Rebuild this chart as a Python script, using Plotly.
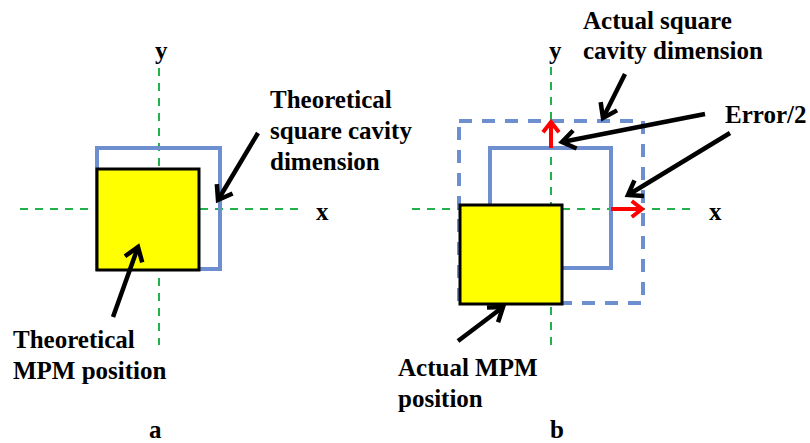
import math
import plotly.graph_objects as go

# ---- data (pixel-space coordinates of the diagram) ----
# rectangles: [x0, y0, x1, y1]
a_cavity = [97, 148, 220, 269]
a_mpm = [97, 169, 199, 270]
b_cavity = [490, 148, 611, 268]
b_actual_cavity = [459, 121, 643, 303]
b_mpm = [460, 205, 562, 304]

# axis lines: [x0, y0, x1, y1]
a_xaxis = [20, 209, 298, 209]
a_yaxis = [159, 68, 159, 345]
b_xaxis = [412, 209, 692, 209]
b_yaxis = [551, 67, 551, 345]

# black pointer arrows: [x_start, y_start, x_tip, y_tip]
black_arrows = [
    [258, 133, 218, 200],
    [113, 317, 138, 247],
    [625, 74, 603, 118],
    [705, 114, 562, 142],
    [730, 133, 628, 195],
    [458, 341, 503, 307],
]
# red error arrows
red_arrows = [
    [551, 148, 551, 122],
    [611, 209, 642, 209],
]

# text labels: (text, x, y, anchor)
labels = [
    ("y", 161, 50, "center"),
    ("x", 322, 211, "center"),
    ("Theoretical", 269, 99, "left"),
    ("square cavity", 269, 130, "left"),
    ("dimension", 269, 161, "left"),
    ("Theoretical", 12, 339, "left"),
    ("MPM position", 12, 370, "left"),
    ("a", 155, 429, "center"),
    ("y", 555, 50, "center"),
    ("x", 715, 211, "center"),
    ("Actual square", 582, 20, "left"),
    ("cavity dimension", 582, 50, "left"),
    ("Error/2", 724, 114, "left"),
    ("Actual MPM", 397, 367, "left"),
    ("position", 397, 398, "left"),
    ("b", 557, 429, "center"),
]

W, H = 810, 443
BLUE = "#6E8FCF"
GREEN = "#22B14C"
YELLOW = "#FFFF00"

fig = go.Figure()

shapes = []
for ln in [a_xaxis, a_yaxis, b_xaxis, b_yaxis]:
    shapes.append(dict(type="line", x0=ln[0], y0=ln[1], x1=ln[2], y1=ln[3],
                       line=dict(color=GREEN, width=2, dash="8px,7px"), layer="below"))
for r in [a_cavity, b_cavity]:
    shapes.append(dict(type="rect", x0=r[0], y0=r[1], x1=r[2], y1=r[3],
                       line=dict(color=BLUE, width=4), layer="below"))
shapes.append(dict(type="rect", x0=b_actual_cavity[0], y0=b_actual_cavity[1],
                   x1=b_actual_cavity[2], y1=b_actual_cavity[3],
                   line=dict(color=BLUE, width=4, dash="13px,10px"), layer="below"))
for r in [a_mpm, b_mpm]:
    shapes.append(dict(type="rect", x0=r[0], y0=r[1], x1=r[2], y1=r[3],
                       fillcolor=YELLOW, line=dict(color="black", width=3), layer="below"))


def arrow_path(arrows, head_len, half_angle_deg):
    xs, ys = [], []
    ang = math.radians(half_angle_deg)
    for x0, y0, x1, y1 in arrows:
        dx, dy = x1 - x0, y1 - y0
        n = math.hypot(dx, dy)
        ux, uy = dx / n, dy / n
        xs += [x0, x1, None]
        ys += [y0, y1, None]
        w = []
        for s in (1, -1):
            ca, sa = math.cos(s * ang), math.sin(s * ang)
            bx = -(ux * ca - uy * sa)
            by = -(ux * sa + uy * ca)
            w.append((x1 + bx * head_len, y1 + by * head_len))
        xs += [w[0][0], x1, w[1][0], None]
        ys += [w[0][1], y1, w[1][1], None]
    return xs, ys


bx, by = arrow_path(black_arrows, 16, 35)
fig.add_trace(go.Scatter(x=bx, y=by, mode="lines",
                         line=dict(color="black", width=4.5), hoverinfo="skip"))
rx, ry = arrow_path(red_arrows, 13, 38)
fig.add_trace(go.Scatter(x=rx, y=ry, mode="lines",
                         line=dict(color="#FF0000", width=4), hoverinfo="skip"))

annotations = []
for t, x, y, anc in labels:
    annotations.append(dict(text=t, x=x, y=y, xref="x", yref="y", showarrow=False,
                            xanchor=anc, yanchor="middle", borderpad=0,
                            font=dict(family="Liberation Serif", size=25,
                                      color="black", weight="bold")))

fig.update_layout(
    width=W, height=H,
    margin=dict(l=0, r=0, t=0, b=0),
    paper_bgcolor="white", plot_bgcolor="white",
    showlegend=False,
    shapes=shapes,
    annotations=annotations,
    xaxis=dict(range=[0, W], visible=False, fixedrange=True),
    yaxis=dict(range=[H, 0], visible=False, fixedrange=True),
)

fig.write_html("out.html", config={"displayModeBar": False},
               post_script="document.body.style.margin='0';document.body.style.overflow='hidden';")
